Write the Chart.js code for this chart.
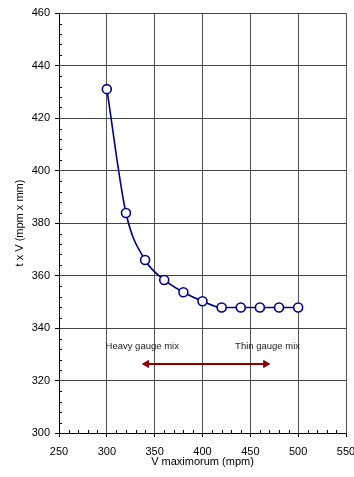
<!DOCTYPE html>
<html><head><meta charset="utf-8">
<script src="https://cdn.jsdelivr.net/npm/chart.js@4"></script>
<style>html,body{margin:0;padding:0;background:#fff}canvas{display:block}</style>
</head><body>
<canvas id="c" width="354" height="477"></canvas>
<script>
// ---- data ----
const vMax = [300, 320, 340, 360, 380, 400, 420, 440, 460, 480, 500];
const txV  = [431, 383.8, 365.9, 358.3, 353.6, 350.2, 347.8, 347.8, 347.8, 347.8, 347.8];
const arrowX = [341.5, 466];
const arrowY = [326.3, 326.3];
const noteText = ['Heavy gauge mix', 'Thin gauge mix'];
const noteX = [337, 468];
const noteY = [333, 333];
const xRange = [250, 550];
const yRange = [300, 460];
const xStep = 50, yStep = 20;
const xMinorStep = 10, yMinorStep = 4;

const FONT = 'Liberation Sans, Arial, sans-serif';

const mainData = vMax.map((v, i) => ({x: v, y: txV[i]}));
const arrowData = arrowX.map((v, i) => ({x: v, y: arrowY[i]}));

const extras = {
  id: 'extras',
  afterDraw(chart) {
    const ctx = chart.ctx, xs = chart.scales.x, ys = chart.scales.y;
    const ca = chart.chartArea;
    ctx.save();
    ctx.strokeStyle = '#000';
    ctx.lineWidth = 1;
    ctx.beginPath();
    for (let v = yRange[0]; v <= yRange[1]; v += yMinorStep) {
      if (v % yStep === 0) continue;
      const py = Math.round(ys.getPixelForValue(v)) + 0.5;
      ctx.moveTo(ca.left, py); ctx.lineTo(ca.left + 3, py);
    }
    for (let v = xRange[0]; v <= xRange[1]; v += xMinorStep) {
      if (v % xStep === 0) continue;
      const px = Math.round(xs.getPixelForValue(v)) + 0.5;
      ctx.moveTo(px, ca.bottom); ctx.lineTo(px, ca.bottom - 3);
    }
    ctx.stroke();
    ctx.fillStyle = '#222';
    ctx.font = '9.5px ' + FONT;
    ctx.textAlign = 'center';
    ctx.textBaseline = 'middle';
    noteText.forEach((t, i) => {
      ctx.fillText(t, xs.getPixelForValue(noteX[i]), ys.getPixelForValue(noteY[i]));
    });
    ctx.restore();
  }
};

new Chart(document.getElementById('c'), {
  type: 'line',
  data: {
    datasets: [
      {
        data: mainData,
        borderColor: '#000080',
        borderWidth: 1.6,
        backgroundColor: '#fff',
        pointBackgroundColor: '#fff',
        pointBorderColor: '#000080',
        pointBorderWidth: 1.6,
        pointRadius: 4.5,
        cubicInterpolationMode: 'monotone',
        fill: false
      },
      {
        data: arrowData,
        borderColor: '#8B0000',
        borderWidth: 2,
        pointStyle: 'triangle',
        pointRotation: [-90, 90],
        pointRadius: 4,
        pointBackgroundColor: '#8B0000',
        pointBorderColor: '#8B0000',
        pointBorderWidth: 1,
        tension: 0,
        fill: false
      }
    ]
  },
  options: {
    responsive: false,
    animation: false,
    devicePixelRatio: 1,
    layout: {padding: {top: 13, right: 8, left: 0, bottom: 0}},
    plugins: {legend: {display: false}, tooltip: {enabled: false}},
    scales: {
      x: {
        type: 'linear',
        min: xRange[0], max: xRange[1],
        afterFit(s) { s.height = 44; s.paddingRight = 0; s.paddingLeft = 0; },
        ticks: {stepSize: xStep, color: '#000', font: {family: FONT, size: 11}, padding: 8, maxRotation: 0},
        grid: {color: '#555', lineWidth: 1, tickLength: 4, tickColor: '#000'},
        border: {color: '#000', width: 1},
        title: {display: true, text: 'V maximorum (mpm)', color: '#000', font: {family: FONT, size: 11}, padding: {top: 0, bottom: 8}}
      },
      y: {
        type: 'linear',
        min: yRange[0], max: yRange[1],
        afterFit(s) { s.width = 59; s.paddingTop = 0; s.paddingBottom = 0; },
        ticks: {stepSize: yStep, color: '#000', font: {family: FONT, size: 11}, padding: 5},
        grid: {color: '#444', lineWidth: 1, tickLength: 4, tickColor: '#000'},
        border: {color: '#000', width: 1},
        title: {display: true, text: 't x V (mpm x mm)', color: '#000', font: {family: FONT, size: 11}, padding: {top: 13, bottom: 0}}
      }
    }
  },
  plugins: [extras]
});
</script>
</body></html>
